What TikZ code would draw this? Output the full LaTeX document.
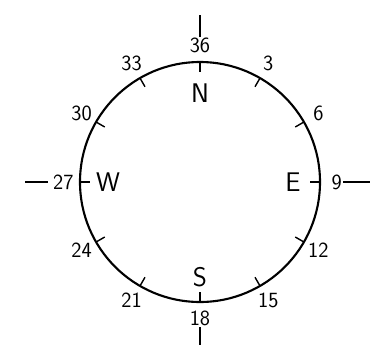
\documentclass[tikz,border=0pt]{standalone}
\usepackage{tikz}
\usetikzlibrary{calc}
\tikzset{
  rim/.style={line width=1.8pt},
  tick/.style={line width=1.2pt},
  bearing/.style={font=\sffamily\fontsize{18.5}{20}\selectfont, inner sep=0pt},
  cardinal/.style={font=\sffamily\fontsize{23}{26}\selectfont, inner sep=0pt}
}
\begin{document}
\begin{tikzpicture}
  \useasboundingbox (-6.0,-4.86) rectangle (5.43,5.46);
  \coordinate (c) at (0,0);
  % Compass card
  \draw[rim] (c) circle (3.6);
  % Ticks and bearings
  \foreach \n in {3,6,...,36} {
    \coordinate (o\n) at ($(c)+(90-\n*10:3.6)$);
    \coordinate (i\n) at ($(c)+(90-\n*10:3.3)$);
    \draw[tick] (o\n) -- (i\n);
    \node[bearing] (b\n) at ($(c)+(90-\n*10:4.1)$) {\n};
  }
  % Cardinal points
  \node[cardinal] (N) at (0,2.67) {N};
  \node[cardinal] (E) at (2.79,0) {E};
  \node[cardinal] (S) at (0,-2.85) {S};
  \node[cardinal] (W) at (-2.76,0) {W};
  % Outer marks
  \foreach \n/\a/\b in {36/4.35/5.01, 9/4.29/5.1, 18/4.35/5.1, 27/4.56/5.25} {
    \coordinate (p\n) at ($(c)+(90-\n*10:\a)$);
    \coordinate (q\n) at ($(c)+(90-\n*10:\b)$);
    \draw[tick] (p\n) -- (q\n);
  }
\end{tikzpicture}
\end{document}
